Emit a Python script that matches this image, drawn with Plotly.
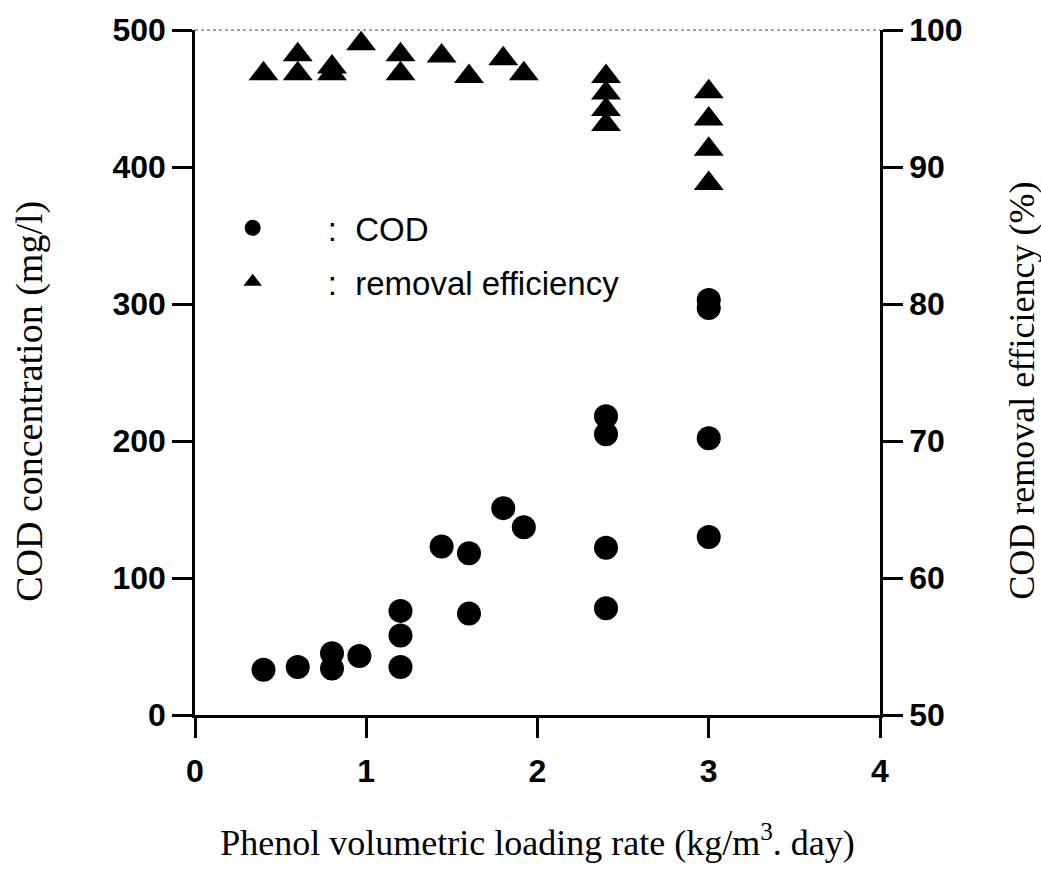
import plotly.graph_objects as go

# COD concentration (mg/l) vs phenol loading rate
cod_x = [0.4, 0.6, 0.8, 0.8, 0.96, 1.2, 1.2, 1.2, 1.44, 1.6, 1.6, 1.8, 1.92,
         2.4, 2.4, 2.4, 2.4, 3.0, 3.0, 3.0, 3.0]
cod_y = [33, 35, 45, 34, 43, 76, 58, 35, 123, 118, 74, 151, 137,
         218, 205, 122, 78, 303, 297, 202, 130]

# COD removal efficiency (%)
eff_x = [0.4, 0.6, 0.6, 0.8, 0.8, 0.97, 1.2, 1.2, 1.44, 1.6, 1.8, 1.92,
         2.4, 2.4, 2.4, 2.4, 3.0, 3.0, 3.0, 3.0]
eff_y = [96.8, 98.2, 96.8, 97.3, 96.8, 99.0, 98.2, 96.8, 98.1, 96.6, 97.9, 96.8,
         96.6, 95.4, 94.2, 93.1, 95.5, 93.5, 91.3, 88.8]

x_ticks = [0, 1, 2, 3, 4]
y_ticks = [0, 100, 200, 300, 400, 500]
y2_ticks = [50, 60, 70, 80, 90, 100]

tickfont = dict(family="Liberation Sans", size=32, color="black", weight="bold")
titlefont = dict(family="Liberation Serif", size=36, color="black")

fig = go.Figure()
fig.add_trace(go.Scatter(
    x=cod_x, y=cod_y, mode="markers", name="      :  COD",
    legendgroup="a",
    marker=dict(symbol="circle", size=24, color="black"),
))
fig.add_trace(go.Scatter(
    x=eff_x, y=eff_y, mode="markers", name="      :  removal efficiency",
    legendgroup="b",
    yaxis="y2",
    marker=dict(symbol="triangle-up", size=26, color="black"),
))

fig.update_layout(
    width=1041, height=877,
    margin=dict(l=195, r=161, t=28, b=162),
    paper_bgcolor="white", plot_bgcolor="white",
    showlegend=True,
    legend=dict(x=0.055, y=0.752, xanchor="left", yanchor="top",
                bgcolor="rgba(0,0,0,0)", traceorder="grouped",
                tracegroupgap=8,
                font=dict(family="Liberation Sans", size=33, color="black")),
    xaxis=dict(range=[0, 4], tickvals=x_ticks, ticks="outside", ticklen=20,
               tickwidth=2.5, tickcolor="black", showline=True, linewidth=2.5,
               linecolor="black", showgrid=False, zeroline=False,
               tickfont=tickfont, ticklabelstandoff=6,
               title=dict(text="Phenol volumetric loading rate (kg/m<sup>3</sup>. day)",
                          font=titlefont, standoff=42)),
    yaxis=dict(range=[0, 500], tickvals=y_ticks, ticks="outside", ticklen=20,
               tickwidth=2.5, tickcolor="black", showline=True, linewidth=2.5,
               linecolor="black", showgrid=False, zeroline=False,
               tickfont=tickfont),
    yaxis2=dict(range=[50, 100], tickvals=y2_ticks, ticks="outside", ticklen=20,
                tickwidth=2.5, tickcolor="black", showline=True, linewidth=2.5,
                linecolor="black", showgrid=False, zeroline=False,
                overlaying="y", side="right", anchor="x",
                tickfont=tickfont),
    annotations=[
        dict(text="COD concentration (mg/l)", xref="paper", yref="paper",
             x=-0.241, y=0.4585, textangle=-90, showarrow=False,
             xanchor="center", yanchor="middle",
             font=dict(family="Liberation Serif", size=38, color="black")),
        dict(text="COD removal efficiency (%)", xref="paper", yref="paper",
             x=1.207, y=0.473, textangle=-90, showarrow=False,
             xanchor="center", yanchor="middle",
             font=dict(family="Liberation Serif", size=36, color="black")),
    ],
)

# faint dotted top border as in the scanned figure
fig.add_shape(type="line", xref="paper", yref="paper", x0=0, x1=1, y0=1, y1=1,
              line=dict(color="#9aa0c8", width=2, dash="dot"))

fig.write_html("out.html")
